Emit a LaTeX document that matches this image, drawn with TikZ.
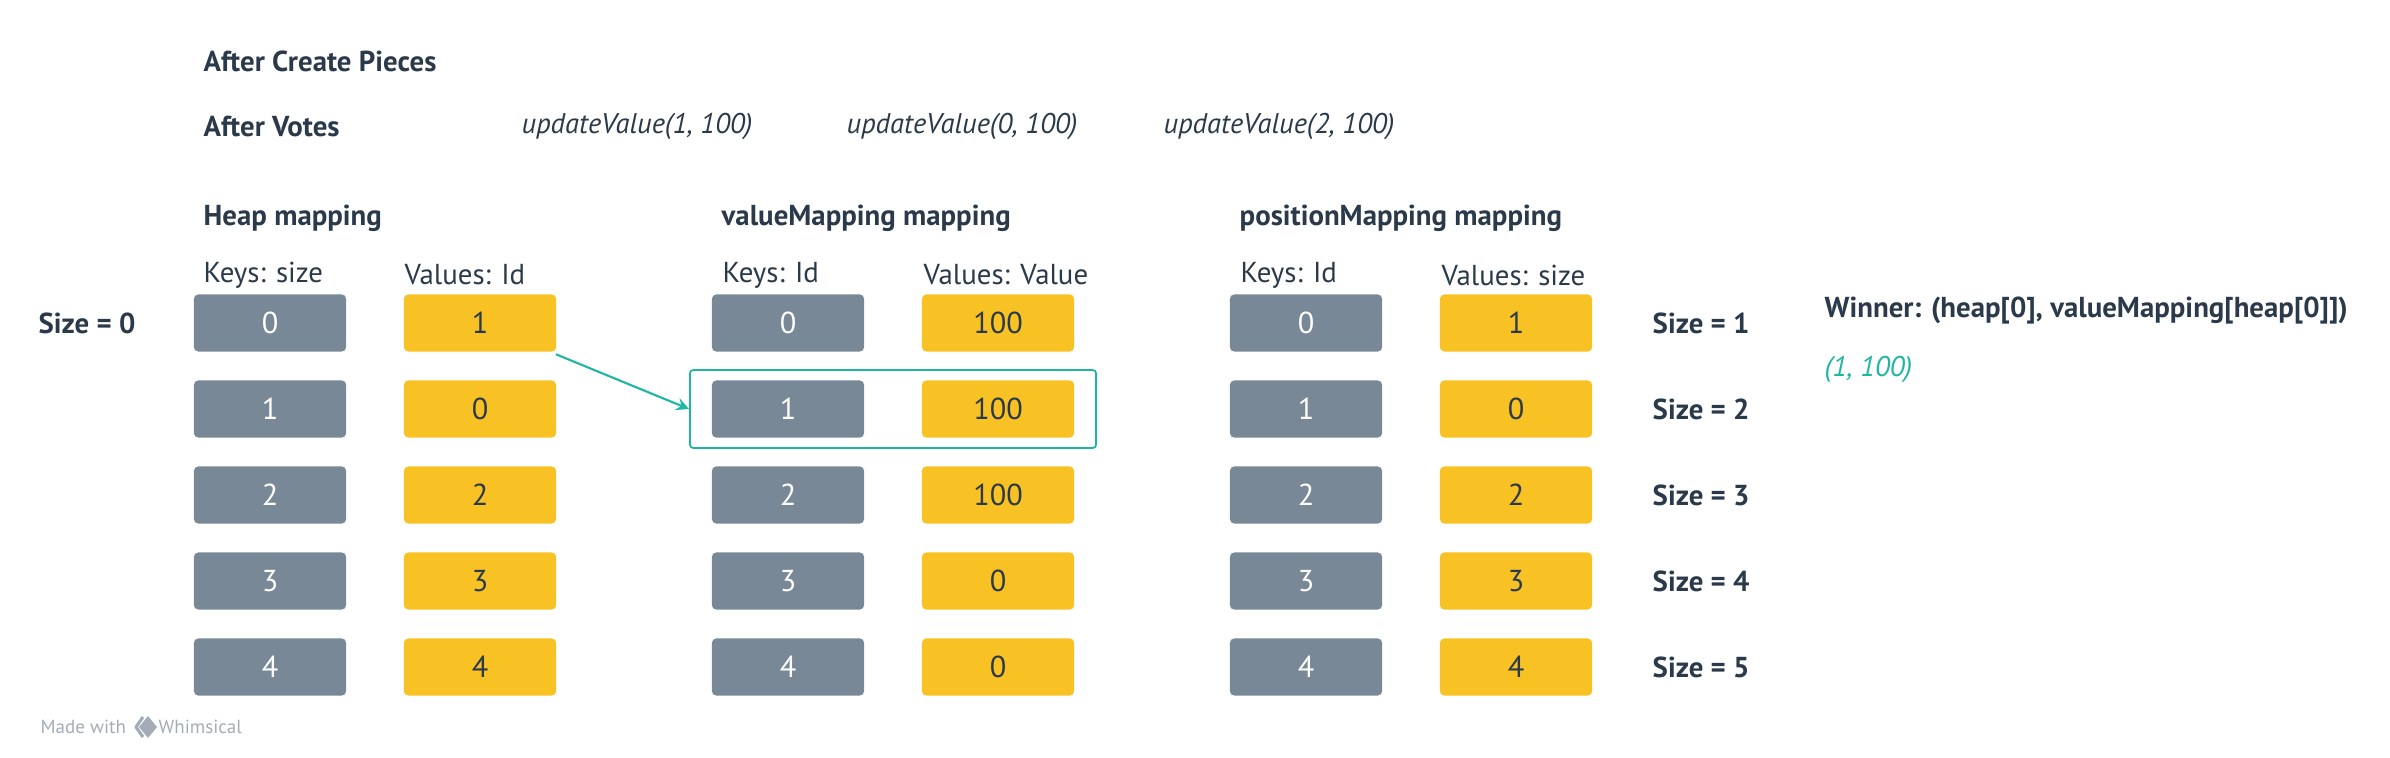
\documentclass[tikz,border=0pt]{standalone}
\usepackage{fontspec}
\setmainfont{PT Sans}
\usetikzlibrary{arrows.meta}

\definecolor{ink}{HTML}{2B3A4A}
\definecolor{slate}{HTML}{788896}
\definecolor{amber}{HTML}{F8C224}
\definecolor{mint}{HTML}{1EB6A2}
\definecolor{faint}{HTML}{A3ADB8}

\tikzset{
    cell/.style={minimum width=1.52cm, minimum height=0.57cm, inner sep=0pt,
        rounded corners=1.2pt, font=\fontsize{8.6}{10}\selectfont},
    keybox/.style={cell, fill=slate, text=white},
    valbox/.style={cell, fill=amber, text=ink},
    head/.style={anchor=west, inner sep=0pt, text=ink, font=\fontsize{8.2}{10}\bfseries},
    call/.style={anchor=west, inner sep=0pt, text=ink, font=\fontsize{8.1}{10}\itshape},
    colname/.style={anchor=west, inner sep=0pt, text=ink, font=\fontsize{8.2}{10}\selectfont},
}

\begin{document}
\begin{tikzpicture}[x=0.01cm, y=-0.01cm]
    \useasboundingbox (0,0) rectangle (2390,757);

    \node[head] (create) at (203,61) {After Create Pieces};
    \node[head] (votes) at (203,126) {After Votes};
    \node[call] (up1) at (521,126) {updateValue(1, 100)};
    \node[call] (up0) at (846,126) {updateValue(0, 100)};
    \node[call] (up2) at (1163,126) {updateValue(2, 100)};

    \node[head] (heap) at (203,218) {Heap mapping};
    \node[head] (vmap) at (721,218) {valueMapping mapping};
    \node[head] (pmap) at (1239,218) {positionMapping mapping};

    \node[colname] (hkeys) at (203,275) {Keys: size};
    \node[colname] (hvals) at (404,275) {Values: Id};
    \node[colname] (vkeys) at (722,275) {Keys: Id};
    \node[colname] (vvals) at (923,275) {Values: Value};
    \node[colname] (pkeys) at (1240,275) {Keys: Id};
    \node[colname] (pvals) at (1441,275) {Values: size};

    % heap
    \node[keybox] (hk0) at (270,323) {0};
    \node[keybox] (hk1) at (270,409) {1};
    \node[keybox] (hk2) at (270,495) {2};
    \node[keybox] (hk3) at (270,581) {3};
    \node[keybox] (hk4) at (270,667) {4};
    \node[valbox] (hv0) at (480,323) {1};
    \node[valbox] (hv1) at (480,409) {0};
    \node[valbox] (hv2) at (480,495) {2};
    \node[valbox] (hv3) at (480,581) {3};
    \node[valbox] (hv4) at (480,667) {4};

    % valueMapping
    \node[keybox] (vk0) at (788,323) {0};
    \node[keybox] (vk1) at (788,409) {1};
    \node[keybox] (vk2) at (788,495) {2};
    \node[keybox] (vk3) at (788,581) {3};
    \node[keybox] (vk4) at (788,667) {4};
    \node[valbox] (vv0) at (998,323) {100};
    \node[valbox] (vv1) at (998,409) {100};
    \node[valbox] (vv2) at (998,495) {100};
    \node[valbox] (vv3) at (998,581) {0};
    \node[valbox] (vv4) at (998,667) {0};

    % positionMapping
    \node[keybox] (pk0) at (1306,323) {0};
    \node[keybox] (pk1) at (1306,409) {1};
    \node[keybox] (pk2) at (1306,495) {2};
    \node[keybox] (pk3) at (1306,581) {3};
    \node[keybox] (pk4) at (1306,667) {4};
    \node[valbox] (pv0) at (1516,323) {1};
    \node[valbox] (pv1) at (1516,409) {0};
    \node[valbox] (pv2) at (1516,495) {2};
    \node[valbox] (pv3) at (1516,581) {3};
    \node[valbox] (pv4) at (1516,667) {4};

    \node[head] (size0) at (38,323) {Size = 0};
    \node[head] (size1) at (1652,323) {Size = 1};
    \node[head] (size2) at (1652,409) {Size = 2};
    \node[head] (size3) at (1652,495) {Size = 3};
    \node[head] (size4) at (1652,581) {Size = 4};
    \node[head] (size5) at (1652,667) {Size = 5};

    \node[head] (winner) at (1824,311) {Winner: (heap[0], valueMapping[heap[0]])};
    \node[call, text=mint] (result) at (1824,369) {(1, 100)};

    \node[draw=mint, line width=0.5pt, rounded corners=1pt, minimum width=4.06cm,
        minimum height=0.78cm] (pick) at (893,409) {};
    \draw (hv0) [-stealth, mint, line width=0.6pt, shorten <=1.5pt] edge (pick.west);

    % footer
    \node[anchor=west, inner sep=0pt, text=faint, font=\fontsize{5.4}{7}\selectfont]
        (made) at (40,727) {Made with};
    \node[anchor=west, inner sep=0pt, text=faint, font=\fontsize{5.4}{7}\selectfont]
        (whim) at (158,727) {Whimsical};
    \draw[faint, line width=0.9pt, line join=round] (143,717) -- (136,727) -- (143,737);
    \fill[faint] (148,716) -- (157,727) -- (148,738) -- (139,727) -- cycle;
\end{tikzpicture}
\end{document}
